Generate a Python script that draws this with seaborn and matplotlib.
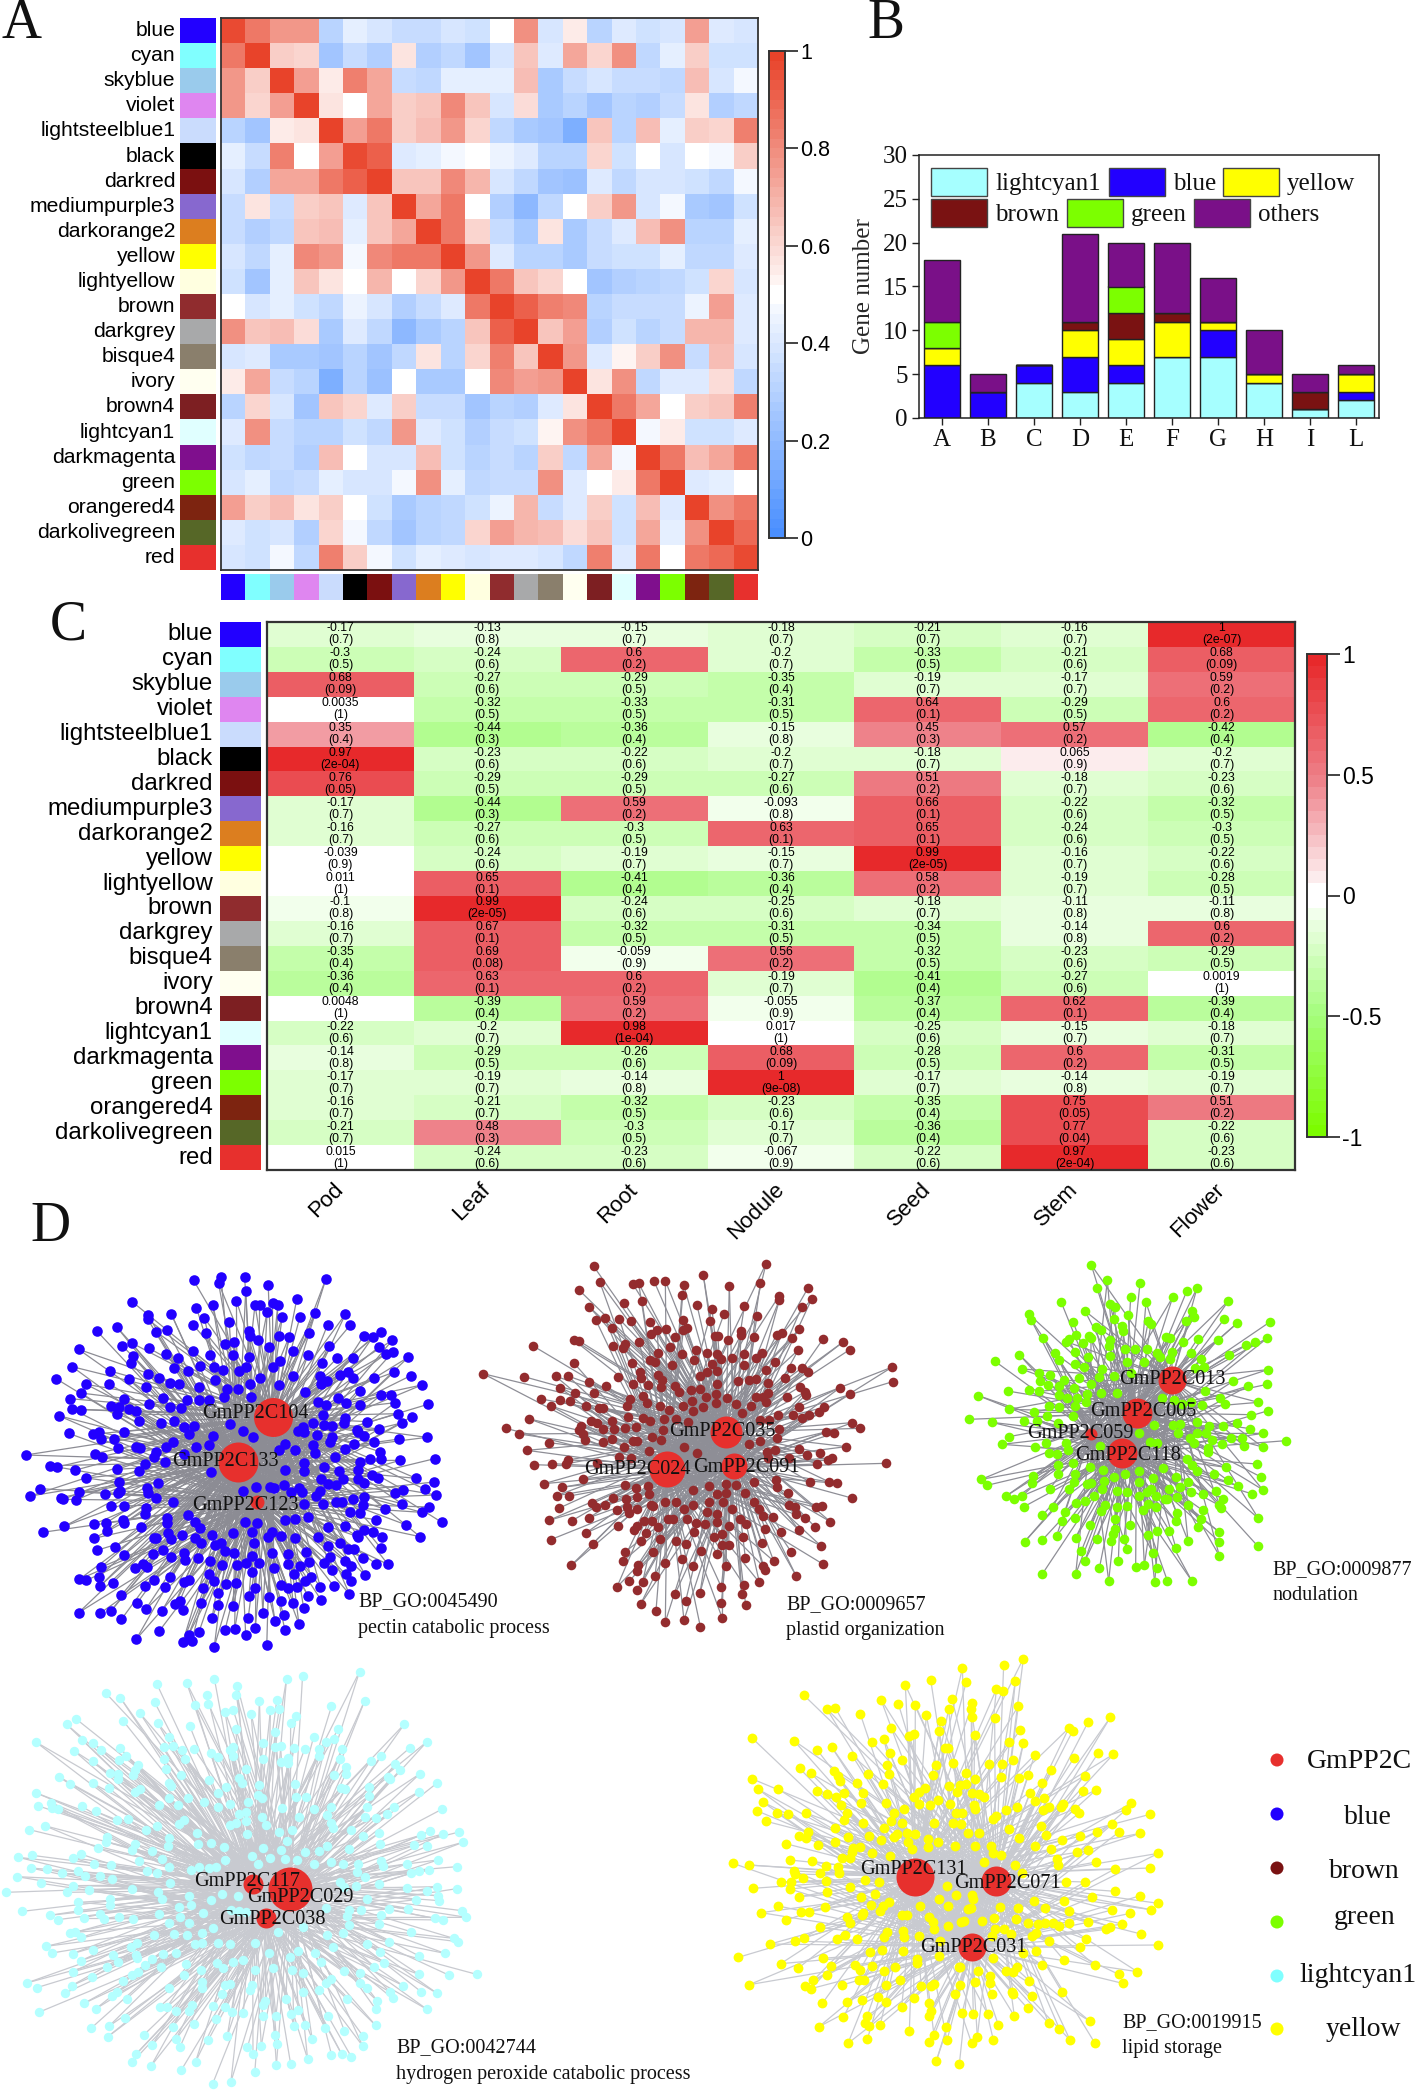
import numpy as np
import matplotlib
matplotlib.use('Agg')
import matplotlib.pyplot as plt
import seaborn as sns
from matplotlib.collections import LineCollection
from matplotlib.colors import LinearSegmentedColormap, ListedColormap
from matplotlib.patches import Rectangle

# ── Données ────────────────────────────────────────────────────────────────
modules = ['blue','cyan','skyblue','violet','lightsteelblue1','black','darkred','mediumpurple3',
           'darkorange2','yellow','lightyellow','brown','darkgrey','bisque4','ivory','brown4',
           'lightcyan1','darkmagenta','green','orangered4','darkolivegreen','red']
module_colors = ['#2200ff','#80ffff','#9acbec','#df86f0','#cadcfd','#000000','#7b1010','#8768cf',
                 '#dc7e1f','#ffff00','#ffffe0','#902c2e','#a8a9aa','#8a7f6c','#fffff0','#7d1f22',
                 '#e0ffff','#7f0f8d','#7cff00','#7d2410','#566727','#e7302d']

# panel A
module_corr = [
 [.97,.85,.77,.77,.3,.43,.38,.35,.35,.38,.37,.49,.78,.38,.55,.3,.41,.36,.39,.74,.41,.39],
 [.85,1,.62,.6,.25,.35,.28,.56,.28,.32,.25,.39,.65,.4,.72,.6,.78,.33,.42,.63,.37,.37],
 [.77,.62,1,.74,.54,.82,.72,.35,.32,.43,.43,.42,.67,.26,.35,.38,.35,.35,.33,.66,.38,.46],
 [.77,.6,.74,1,.58,.5,.72,.63,.65,.8,.65,.38,.59,.26,.3,.25,.3,.28,.35,.56,.28,.33],
 [.3,.25,.54,.58,1,.74,.84,.62,.67,.77,.6,.32,.26,.25,.15,.64,.31,.67,.43,.62,.6,.82],
 [.43,.35,.82,.5,.74,.97,.9,.4,.42,.47,.5,.44,.4,.3,.3,.6,.37,.5,.38,.5,.47,.63],
 [.38,.28,.72,.72,.84,.9,1,.65,.65,.8,.69,.39,.33,.24,.22,.4,.32,.38,.38,.36,.32,.47],
 [.35,.56,.35,.63,.65,.4,.65,1,.72,.84,.5,.28,.18,.33,.48,.62,.77,.38,.47,.27,.24,.37],
 [.35,.28,.32,.65,.67,.42,.65,.72,1,.84,.6,.35,.26,.58,.27,.35,.4,.67,.79,.3,.3,.42],
 [.38,.32,.43,.8,.77,.47,.8,.84,.84,1,.76,.4,.3,.3,.27,.35,.37,.37,.43,.32,.32,.41],
 [.37,.25,.43,.65,.58,.5,.69,.5,.6,.76,1,.84,.65,.6,.5,.25,.28,.3,.33,.36,.6,.38],
 [.49,.39,.42,.37,.33,.44,.39,.28,.35,.4,.84,1,.9,.83,.8,.3,.34,.35,.35,.45,.75,.41],
 [.78,.65,.67,.59,.26,.4,.33,.18,.26,.3,.65,.9,1,.65,.75,.28,.37,.31,.34,.68,.68,.4],
 [.38,.4,.26,.26,.25,.3,.24,.33,.58,.3,.6,.83,.65,1,.77,.4,.52,.63,.78,.35,.66,.39],
 [.55,.72,.35,.3,.15,.3,.22,.48,.27,.27,.5,.8,.75,.77,1,.57,.79,.33,.41,.4,.59,.33],
 [.3,.6,.38,.25,.64,.6,.4,.62,.35,.35,.25,.3,.28,.4,.57,1,.84,.73,.5,.63,.65,.82],
 [.41,.78,.35,.3,.31,.37,.32,.77,.4,.37,.28,.34,.37,.52,.79,.84,1,.46,.55,.36,.36,.4],
 [.36,.33,.35,.28,.67,.5,.38,.38,.67,.37,.3,.35,.31,.63,.33,.73,.46,1,.85,.67,.72,.85],
 [.39,.42,.33,.35,.43,.38,.38,.47,.79,.43,.33,.35,.34,.78,.41,.5,.55,.85,1,.41,.42,.5],
 [.74,.63,.66,.56,.62,.5,.36,.27,.3,.32,.36,.45,.68,.35,.4,.63,.36,.67,.41,1,.78,.85],
 [.41,.37,.38,.28,.6,.47,.32,.24,.3,.32,.6,.75,.68,.66,.59,.65,.36,.72,.42,.78,1,.88],
 [.39,.37,.46,.33,.82,.63,.47,.37,.42,.41,.38,.41,.4,.39,.33,.82,.4,.85,.5,.85,.88,.97],
]

# panel B
gene_groups = ['A','B','C','D','E','F','G','H','I','L']
lightcyan1_genes = [0,0,4,3,4,7,7,4,1,2]
blue_genes = [6,3,2,4,2,0,3,0,0,1]
yellow_genes = [2,0,0,3,3,4,1,1,0,2]
brown_genes = [0,0,0,1,3,1,0,0,2,0]
green_genes = [3,0,0,0,3,0,0,0,0,0]
others_genes = [7,2,0,10,5,8,5,5,2,1]

# panel C
tissues = ['Pod','Leaf','Root','Nodule','Seed','Stem','Flower']
trait_r = [
 ['-0.17','-0.13','-0.15','-0.18','-0.21','-0.16','1'],
 ['-0.3','-0.24','0.6','-0.2','-0.33','-0.21','0.68'],
 ['0.68','-0.27','-0.29','-0.35','-0.19','-0.17','0.59'],
 ['0.0035','-0.32','-0.33','-0.31','0.64','-0.29','0.6'],
 ['0.35','-0.44','-0.36','-0.15','0.45','0.57','-0.42'],
 ['0.97','-0.23','-0.22','-0.2','-0.18','0.065','-0.2'],
 ['0.76','-0.29','-0.29','-0.27','0.51','-0.18','-0.23'],
 ['-0.17','-0.44','0.59','-0.093','0.66','-0.22','-0.32'],
 ['-0.16','-0.27','-0.3','0.63','0.65','-0.24','-0.3'],
 ['-0.039','-0.24','-0.19','-0.15','0.99','-0.16','-0.22'],
 ['0.011','0.65','-0.41','-0.36','0.58','-0.19','-0.28'],
 ['-0.1','0.99','-0.24','-0.25','-0.18','-0.11','-0.11'],
 ['-0.16','0.67','-0.32','-0.31','-0.34','-0.14','0.6'],
 ['-0.35','0.69','-0.059','0.56','-0.32','-0.23','-0.29'],
 ['-0.36','0.63','0.6','-0.19','-0.41','-0.27','0.0019'],
 ['0.0048','-0.39','0.59','-0.055','-0.37','0.62','-0.39'],
 ['-0.22','-0.2','0.98','0.017','-0.25','-0.15','-0.18'],
 ['-0.14','-0.29','-0.26','0.68','-0.28','0.6','-0.31'],
 ['-0.17','-0.19','-0.14','1','-0.17','-0.14','-0.19'],
 ['-0.16','-0.21','-0.32','-0.23','-0.35','0.75','0.51'],
 ['-0.21','0.48','-0.3','-0.17','-0.36','0.77','-0.22'],
 ['0.015','-0.24','-0.23','-0.067','-0.22','0.97','-0.23'],
]
trait_p = [
 ['0.7','0.8','0.7','0.7','0.7','0.7','2e-07'],
 ['0.5','0.6','0.2','0.7','0.5','0.6','0.09'],
 ['0.09','0.6','0.5','0.4','0.7','0.7','0.2'],
 ['1','0.5','0.5','0.5','0.1','0.5','0.2'],
 ['0.4','0.3','0.4','0.8','0.3','0.2','0.4'],
 ['2e-04','0.6','0.6','0.7','0.7','0.9','0.7'],
 ['0.05','0.5','0.5','0.6','0.2','0.7','0.6'],
 ['0.7','0.3','0.2','0.8','0.1','0.6','0.5'],
 ['0.7','0.6','0.5','0.1','0.1','0.6','0.5'],
 ['0.9','0.6','0.7','0.7','2e-05','0.7','0.6'],
 ['1','0.1','0.4','0.4','0.2','0.7','0.5'],
 ['0.8','2e-05','0.6','0.6','0.7','0.8','0.8'],
 ['0.7','0.1','0.5','0.5','0.5','0.8','0.2'],
 ['0.4','0.08','0.9','0.2','0.5','0.6','0.5'],
 ['0.4','0.1','0.2','0.7','0.4','0.6','1'],
 ['1','0.4','0.2','0.9','0.4','0.1','0.4'],
 ['0.6','0.7','1e-04','1','0.6','0.7','0.7'],
 ['0.8','0.5','0.6','0.09','0.5','0.2','0.5'],
 ['0.7','0.7','0.8','9e-08','0.7','0.8','0.7'],
 ['0.7','0.7','0.5','0.6','0.4','0.05','0.2'],
 ['0.7','0.3','0.5','0.7','0.4','0.04','0.6'],
 ['1','0.6','0.6','0.9','0.6','2e-04','0.6'],
]

blue_nodes = [(72,585),(140,617),(160,621),(209,631),(242,654),(113,686),(85,708),(170,713),(177,718),(213,720),(222,696),(119,817),(180,799),(264,792),(298,788),(299,812),(263,835),(271,871),(323,860),(347,885),(284,921),(278,950),(222,958),(242,961),(280,978),(316,968),(340,1005),(384,1029),(220,1058),(280,1060),(311,1052),(340,1078),(408,1048),(454,1052),(382,1137),(446,1113),(512,1146),(537,1143),(528,1124),(557,1116),(600,1160),(630,1110),(657,1107),(688,1125),(715,1103),(747,1154),(770,1083),(798,1111),(837,1092),(794,1064),(736,1058),(695,1074),(594,1073),(513,1050),(489,1032),(503,1024),(563,1030),(610,1036),(653,1037),(697,1008),(754,1012),(787,1023),(821,1030),(850,1043),(862,1007),(899,1020),(978,1002),(935,979),(897,981),(832,982),(806,985),(984,962),(1023,945),(1053,912),(1086,913),(1067,865),(1015,894),(966,903),(983,918),(968,943),(930,931),(925,890),(906,909),(864,907),(839,919),(806,913),(766,924),(705,937),(660,968),(633,973),(600,962),(584,942),(530,960),(475,950),(430,960),(406,978),(463,982),(516,966),(568,983),(611,998),(715,985),(787,976),(822,943),(855,962),(870,952),(952,848),(918,859),(990,868),(975,866),(1045,815),(1069,830),(1018,810),(1002,830),(1052,779),(1077,747),(1138,795),(1176,830),(1237,787),(1181,757),(1201,741),(1125,731),(1106,698),(1129,689),(1190,688),(1222,705),(1215,666),(1165,655),(1059,653),(1041,645),(1019,668),(1120,601),(1217,596),(1195,532),(1118,537),(1047,546),(1063,575),(1067,597),(1037,598),(1008,606),(1002,631),(1061,507),(1028,485),(1125,489),(1153,470),(1113,461),(1198,433),(1107,428),(1094,404),(1067,404),(1008,394),(1181,375),(1150,347),(1102,337),(1046,355),(1143,292),(1100,276),(1080,282),(1062,260),(1098,241),(1068,215),(1044,231),(1018,228),(988,295),(944,294),(920,258),(981,195),(967,163),(917,195),(883,160),(866,219),(862,285),(902,308),(975,335),(988,353),(952,344),(895,347),(821,347),(840,170),(790,172),(831,117),(809,232),(780,227),(778,135),(763,128),(748,156),(727,135),(714,135),(698,212),(700,228),(723,241),(752,260),(820,273),(784,302),(765,322),(912,58),(751,75),(688,92),(685,50),(662,122),(619,51),(612,69),(542,61),(596,136),(550,143),(572,173),(642,187),(577,220),(541,195),(480,163),(468,210),(437,215),(414,165),(414,178),(370,125),(327,201),(272,214),(220,268),(342,257),(369,249),(416,264),(371,287),(367,310),(466,281),(499,294),(541,274),(631,252),(655,246),(589,285),(653,286),(696,292),(202,320),(308,333),(361,358),(157,356),(241,373),(306,372),(226,399),(196,416),(347,417),(410,380),(414,342),(487,323),(526,332),(559,317),(598,321),(624,330),(668,332),(689,320),(201,447),(228,449),(164,467),(192,520),(259,523),(278,516),(283,537),(318,537),(310,438),(334,440),(327,461),(362,446),(381,452),(418,432),(390,484),(450,489),(487,482),(476,440),(508,445),(457,415),(524,420),(557,420),(584,420),(626,412),(702,410),(667,388),(635,388),(603,359),(556,380),(501,373),(475,369),(444,355),(727,353),(701,372),(780,376),(855,397),(900,372),(916,362),(946,413),(970,429),(1008,436),(914,434),(889,425),(265,581),(286,590),(330,565),(380,560),(392,564),(437,577),(430,592),(406,612),(390,634),(328,628),(332,665),(293,702),(330,698),(336,692),(412,684),(413,700),(443,669),(437,714),(311,739),(347,738),(410,745),(407,761),(484,727),(345,780),(348,790),(396,802),(467,775),(468,790),(526,765),(545,787),(560,803),(470,820),(430,835),(437,833),(480,838),(510,825),(455,869),(428,883),(478,891),(515,880),(518,900),(553,895),(589,902),(563,850),(545,835),(593,825),(620,850),(603,855),(651,820),(705,815),(710,850),(687,785),(719,790),(762,815),(750,830),(786,827),(826,835),(890,830),(918,802),(965,797),(1000,825),(857,875),(805,883),(761,878),(706,887),(656,879),(631,873),(621,915),(663,915),(689,910),(725,910),(377,925),(400,912),(412,922),(516,583),(347,515),(463,605),(466,560),(484,547),(530,523),(542,497),(514,502),(596,528),(585,555),(549,560),(590,636),(644,492),(679,514),(709,531),(798,552),(780,570),(827,570),(852,610),(850,633),(798,630),(875,555),(882,580),(938,590),(967,568),(991,553),(948,632),(908,620),(898,658),(918,672),(942,675),(960,658),(1001,658),(885,707),(904,731),(895,692),(942,725),(957,725),(988,716),(1018,710),(1016,735),(979,755),(1008,760),(862,770),(826,778),(799,781),(845,697),(815,697),(795,676),(767,684),(755,682),(718,682),(680,692),(852,733),(836,684),(930,498),(963,490),(966,475),(908,494),(877,488),(905,466),(847,500),(833,512),(850,516),(888,525),(930,530),(923,546),(1003,515),(1020,527),(1000,510)]
brown_nodes = [(39,401),(107,565),(148,582),(162,410),(178,537),(188,317),(171,631),(192,674),(222,731),(213,477),(243,498),(238,608),(257,409),(245,671),(260,767),(266,805),(237,841),(242,899),(304,976),(368,911),(348,879),(306,842),(275,742),(298,768),(294,408),(311,368),(311,300),(326,302),(270,443),(270,480),(301,484),(316,460),(358,427),(371,460),(349,499),(409,439),(444,410),(429,317),(458,323),(464,312),(508,306),(463,190),(404,234),(377,239),(357,200),(327,150),(389,125),(371,79),(448,237),(426,265),(483,244),(489,133),(506,130),(552,123),(586,122),(516,183),(541,247),(543,283),(561,271),(589,266),(641,135),(636,164),(700,106),(681,195),(638,240),(720,242),(726,208),(762,222),(778,138),(823,198),(861,228),(871,130),(888,71),(927,168),(928,180),(1014,144),(1025,177),(995,201),(988,267),(967,294),(935,280),(920,284),(853,292),(814,272),(813,285),(773,301),(735,287),(743,288),(985,330),(1060,296),(1118,307),(1139,329),(1267,381),(1268,425),(1110,443),(1141,462),(1013,395),(995,384),(963,384),(990,440),(1006,455),(1007,465),(951,470),(987,500),(1062,502),(1048,516),(1018,526),(996,533),(970,526),(925,525),(1147,548),(1169,565),(1067,576),(1092,580),(1128,620),(988,628),(1011,644),(1049,638),(1075,660),(1085,653),(1041,672),(1247,670),(1021,727),(1078,726),(1102,730),(1145,774),(1037,802),(1055,799),(1081,845),(1034,860),(1004,833),(978,823),(957,796),(975,802),(987,871),(933,875),(1052,917),(963,935),(911,963),(1060,973),(978,1007),(884,990),(878,977),(826,953),(868,1027),(822,1035),(815,1062),(827,1096),(754,1041),(754,1089),(757,1135),(691,1160),(690,1059),(647,1083),(642,1140),(615,1062),(586,1146),(558,1112),(512,1092),(500,1051),(441,1041),(477,1024),(518,1026),(555,1008),(500,992),(503,975),(458,964),(465,936),(584,968),(635,956),(669,978),(769,979),(741,941),(694,932),(550,935),(513,902),(571,898),(618,904),(648,913),(755,915),(777,914),(818,890),(875,908),(886,866),(908,830),(878,827),(868,806),(853,785),(786,806),(759,787),(718,786),(670,795),(642,808),(586,785),(618,786),(550,799),(500,808),(469,776),(500,772),(441,810),(472,802),(478,818),(429,775),(406,796),(378,800),(367,790),(357,833),(443,857),(493,870),(500,857),(529,879),(522,842),(546,843),(563,860),(595,838),(610,837),(652,838),(679,848),(705,853),(740,845),(741,822),(712,815),(778,859),(811,838),(829,853),(731,890),(756,881),(671,875),(338,717),(380,670),(294,660),(288,672),(334,557),(328,571),(340,582),(345,600),(362,543),(382,548),(398,568),(425,597),(400,607),(433,567),(464,565),(497,560),(490,602),(500,602),(545,590),(574,599),(536,632),(461,622),(448,650),(484,655),(643,620),(682,640),(466,736),(497,744),(535,738),(538,762),(543,795),(717,737),(768,733),(797,736),(741,763),(767,758),(670,750),(825,758),(852,727),(917,720),(920,742),(955,760),(893,655),(890,637),(914,629),(958,654),(920,594),(926,568),(870,540),(897,540),(869,604),(838,613),(815,518),(798,493),(772,474),(737,490),(700,500),(670,512),(665,484),(638,497),(689,447),(663,449),(628,456),(615,438),(574,440),(569,497),(596,510),(619,537),(655,547),(580,570),(519,533),(540,543),(582,537),(532,490),(518,469),(488,433),(480,476),(471,497),(474,532),(425,544),(400,505),(387,505),(742,432),(737,462),(707,470),(803,424),(838,420),(857,418),(893,430),(895,458),(878,470),(859,470),(843,497),(888,487),(945,415),(915,365),(887,390),(858,353),(877,340),(823,342),(822,374),(786,353),(753,357),(740,343),(711,340),(726,372),(712,395),(691,407),(740,393),(673,360),(678,329),(637,341),(605,375),(601,322),(563,340),(540,360),(554,365),(487,370),(511,395),(514,415),(534,435),(564,405),(577,420),(616,290),(640,270),(650,265)]
green_nodes = [(394,45),(411,114),(442,91),(540,99),(711,114),(680,124),(638,142),(512,140),(558,157),(450,163),(464,172),(303,155),(375,183),(207,193),(213,209),(339,215),(461,207),(504,194),(805,153),(792,208),(831,220),(931,215),(921,265),(885,277),(859,285),(808,316),(773,269),(713,266),(696,183),(703,201),(677,214),(565,214),(573,221),(486,229),(490,243),(408,232),(424,239),(348,255),(250,263),(326,267),(319,275),(387,258),(393,263),(370,280),(450,270),(448,287),(494,297),(525,296),(562,296),(617,261),(630,265),(669,277),(694,308),(285,310),(297,329),(345,305),(345,342),(372,352),(383,320),(449,318),(502,335),(552,335),(590,310),(600,322),(637,305),(630,326),(178,314),(105,334),(185,357),(236,370),(270,374),(241,393),(312,389),(358,385),(417,380),(425,357),(423,428),(392,402),(471,429),(462,378),(512,368),(705,355),(731,350),(722,326),(923,359),(921,403),(865,408),(820,393),(736,424),(143,423),(55,437),(208,421),(236,424),(265,406),(296,407),(341,413),(380,432),(350,443),(322,445),(298,434),(296,470),(268,467),(345,467),(378,456),(147,478),(27,508),(95,517),(192,514),(222,487),(260,498),(232,512),(293,518),(340,497),(147,560),(127,583),(224,592),(258,580),(290,612),(267,610),(325,600),(318,578),(419,587),(64,688),(81,706),(137,739),(162,747),(186,738),(192,770),(219,678),(216,698),(269,717),(295,645),(294,673),(340,640),(345,672),(343,697),(326,717),(247,796),(278,772),(347,760),(375,752),(401,739),(391,652),(428,661),(462,681),(431,692),(426,716),(381,701),(394,700),(470,724),(500,725),(495,672),(537,697),(538,737),(572,718),(560,725),(588,738),(616,747),(627,718),(578,683),(537,664),(610,655),(648,680),(660,712),(651,740),(622,748),(693,727),(684,697),(728,733),(767,724),(789,746),(776,765),(782,773),(803,691),(834,707),(877,732),(908,719),(903,681),(798,652),(763,673),(712,664),(695,645),(680,626),(890,642),(851,588),(845,563),(910,550),(978,572),(908,591),(871,536),(830,520),(925,482),(895,457),(873,494),(789,527),(746,527),(738,549),(710,516),(727,464),(794,461),(779,443),(785,583),(812,563),(755,570),(745,595),(745,605),(702,578),(690,563),(712,548),(638,526),(660,522),(654,549),(582,524),(570,575),(590,580),(538,550),(605,443),(643,450),(666,463),(694,455),(895,805),(893,888),(778,846),(778,875),(778,917),(713,832),(723,807),(728,781),(684,765),(650,790),(647,813),(628,842),(684,872),(648,895),(695,992),(622,992),(584,997),(590,955),(579,909),(592,842),(563,855),(511,825),(466,837),(458,853),(454,873),(492,868),(500,897),(475,934),(553,945),(527,951),(446,993),(418,955),(374,934),(364,903),(347,972),(247,972),(347,863),(411,868),(290,857),(247,870),(194,875),(306,812),(316,785),(345,804),(389,826),(424,783),(434,765),(470,771),(465,808),(502,767),(550,780),(563,763),(587,770)]
cyan_nodes = [(783,35),(659,47),(624,57),(467,57),(407,70),(342,73),(517,78),(231,100),(262,113),(451,104),(515,105),(337,127),(425,135),(454,131),(565,122),(603,119),(794,123),(722,139),(490,155),(508,150),(589,150),(608,148),(547,161),(645,169),(305,160),(165,176),(145,193),(268,182),(344,190),(413,197),(513,206),(633,189),(881,192),(736,208),(599,217),(683,231),(711,245),(727,236),(930,245),(893,263),(78,246),(179,240),(203,250),(367,230),(261,264),(220,270),(162,273),(357,262),(377,259),(423,267),(397,270),(572,250),(507,261),(500,270),(600,262),(611,258),(640,265),(664,266),(745,266),(695,267),(694,288),(829,289),(807,302),(741,296),(861,313),(872,329),(753,320),(753,342),(914,342),(846,350),(850,358),(952,369),(913,395),(803,381),(803,408),(742,385),(752,388),(727,345),(275,288),(259,300),(203,304),(358,296),(402,296),(361,326),(460,280),(475,292),(507,287),(572,298),(628,295),(627,310),(613,305),(536,328),(300,316),(295,330),(290,345),(240,338),(256,342),(258,358),(129,351),(153,372),(202,370),(238,385),(295,395),(306,388),(368,368),(372,378),(395,346),(456,360),(492,380),(521,355),(527,370),(565,375),(642,372),(474,398),(79,399),(82,437),(110,428),(113,445),(126,447),(178,439),(208,454),(255,479),(278,478),(343,498),(318,509),(367,414),(347,435),(387,435),(410,415),(445,425),(475,440),(502,432),(540,425),(570,415),(563,405),(614,443),(645,412),(667,412),(683,447),(720,440),(800,442),(858,440),(843,463),(820,474),(795,472),(962,448),(713,465),(652,470),(570,470),(535,457),(520,462),(400,480),(390,492),(64,509),(97,497),(234,530),(230,545),(213,565),(295,552),(287,570),(332,573),(369,533),(365,558),(430,518),(432,552),(460,548),(487,560),(500,495),(515,490),(535,483),(538,523),(580,495),(608,515),(637,510),(720,490),(725,505),(765,510),(790,527),(825,520),(828,553),(916,526),(936,514),(965,522),(1000,516),(1008,547),(931,558),(902,556),(760,568),(713,558),(695,572),(665,577),(625,543),(572,565),(612,570),(40,592),(70,586),(158,593),(176,582),(205,612),(242,615),(303,604),(352,598),(67,624),(103,628),(134,640),(169,634),(185,648),(218,648),(37,650),(90,670),(158,677),(146,697),(194,691),(12,697),(243,656),(321,632),(342,640),(369,622),(371,668),(415,630),(434,620),(455,625),(470,622),(490,600),(548,587),(561,612),(589,593),(620,598),(646,600),(683,612),(722,605),(747,612),(780,612),(830,603),(835,618),(886,611),(953,600),(995,620),(913,632),(895,640),(935,631),(825,673),(886,684),(930,693),(952,680),(995,686),(955,707),(957,722),(905,719),(800,717),(740,665),(750,680),(776,677),(777,635),(795,652),(49,754),(170,727),(170,749),(239,718),(240,735),(287,688),(345,695),(352,718),(390,742),(412,708),(416,735),(460,719),(483,702),(519,707),(504,749),(108,766),(126,779),(182,773),(218,761),(227,776),(259,771),(289,776),(346,762),(368,790),(392,770),(412,790),(443,760),(520,752),(535,755),(710,745),(761,750),(787,750),(848,747),(888,748),(1006,752),(1016,772),(947,775),(964,780),(830,764),(755,768),(152,819),(163,817),(177,832),(100,859),(113,879),(158,881),(202,869),(285,860),(298,850),(336,824),(378,823),(408,825),(440,818),(465,803),(605,817),(660,800),(712,826),(747,820),(760,794),(825,791),(895,815),(988,835),(997,845),(847,845),(800,852),(725,862),(685,880),(650,873),(632,890),(585,880),(555,850),(500,852),(475,850),(440,850),(425,853),(383,878),(355,882),(297,886),(298,895),(247,885),(257,905),(176,902),(233,920),(160,935),(201,952),(58,969),(80,983),(156,977),(142,999),(267,964),(287,946),(301,937),(315,915),(330,898),(350,920),(405,912),(400,945),(438,930),(472,908),(485,925),(508,905),(530,900),(555,930),(595,923),(635,930),(660,940),(700,905),(750,932),(785,940),(815,920),(837,910),(828,875),(913,888),(969,880),(977,945),(912,943),(1038,943),(952,1000),(917,995),(878,977),(855,1015),(850,997),(800,985),(785,968),(722,957),(710,970),(695,990),(660,996),(548,975),(545,990),(500,973),(490,975),(440,965),(441,985),(484,1003),(369,985),(254,997),(245,1008),(276,1016),(183,1030),(86,1056),(209,1046),(348,1040),(363,1042),(383,1052),(419,1035),(412,1052),(465,1038),(490,1042),(505,1057),(530,1060),(578,1022),(572,1035),(623,1016),(650,1050),(634,1062),(572,1068),(601,1067),(756,1018),(822,1023),(818,1047),(930,1048),(714,1068),(471,1078),(422,1092),(376,1100),(273,1073),(238,1098),(199,1104),(235,1130),(313,1125),(384,1136),(454,1139),(495,1128),(600,1125),(640,1098),(664,1094),(708,1104),(750,1112),(818,1096),(790,1127),(680,1138),(603,1152),(569,1157),(539,1162),(332,1154),(392,1161),(296,1183),(288,1207),(329,1218),(395,1230),(426,1205),(551,1182),(602,1214),(633,1212),(670,1197),(722,1184),(744,1182),(765,1190),(790,1158),(555,1236),(503,1265),(463,1272)]
yellow_nodes = [(910,26),(851,44),(727,55),(739,95),(886,94),(632,89),(556,105),(251,135),(829,118),(849,122),(483,149),(535,161),(586,166),(696,146),(686,178),(757,160),(754,178),(756,202),(895,168),(824,204),(619,196),(421,192),(320,176),(346,174),(663,212),(513,233),(658,242),(901,239),(1171,202),(1104,217),(1046,235),(1058,243),(568,257),(581,252),(764,255),(95,263),(222,272),(456,276),(492,268),(868,275),(910,280),(1134,310),(1180,313),(1061,325),(335,291),(291,299),(397,317),(509,310),(676,293),(683,295),(944,315),(878,329),(547,330),(845,343),(806,342),(700,340),(649,346),(502,345),(992,360),(239,355),(273,370),(343,364),(353,378),(360,394),(443,371),(508,372),(639,375),(737,368),(764,387),(843,382),(897,385),(925,376),(1094,377),(95,386),(115,418),(173,416),(291,424),(412,398),(322,431),(372,430),(349,442),(429,429),(488,401),(686,409),(719,406),(739,403),(710,425),(755,428),(778,432),(792,440),(615,415),(596,426),(581,440),(965,400),(930,429),(1088,423),(1128,420),(973,443),(946,454),(988,470),(1030,462),(1022,470),(1065,476),(1076,490),(128,456),(110,482),(170,488),(204,491),(257,489),(139,514),(364,466),(422,458),(498,459),(382,490),(373,510),(553,476),(598,463),(631,466),(654,449),(691,462),(763,465),(764,478),(890,470),(858,481),(968,479),(829,497),(818,508),(1234,459),(1217,480),(1290,493),(1177,522),(1198,545),(1261,550),(1130,547),(1079,559),(1027,570),(963,528),(977,555),(897,565),(867,538),(778,550),(743,550),(709,490),(727,489),(700,520),(724,521),(641,520),(546,520),(521,490),(513,512),(491,535),(530,552),(521,562),(560,550),(586,553),(428,519),(344,533),(238,557),(263,547),(259,565),(293,584),(344,577),(385,562),(446,557),(483,571),(197,581),(400,595),(420,590),(397,605),(455,608),(510,619),(565,575),(577,598),(625,567),(624,592),(654,577),(705,587),(764,587),(813,587),(818,609),(844,615),(945,587),(992,598),(1072,607),(1105,600),(1010,627),(1014,645),(1128,636),(1186,656),(1290,654),(1315,610),(39,640),(86,645),(209,630),(277,634),(365,623),(390,625),(318,649),(355,650),(356,668),(222,663),(224,672),(301,670),(248,685),(184,696),(214,696),(210,717),(99,715),(318,693),(321,727),(238,740),(390,710),(435,690),(478,697),(465,733),(422,742),(680,708),(707,736),(756,735),(759,748),(792,636),(885,644),(905,670),(1037,697),(1095,696),(1186,724),(1117,742),(1261,737),(1031,752),(942,754),(976,775),(1048,782),(1175,780),(1231,790),(1293,779),(1315,760),(1207,822),(1263,852),(1170,832),(1158,838),(1104,817),(1048,820),(1018,827),(1000,820),(975,818),(954,823),(923,820),(889,808),(894,774),(841,772),(123,788),(175,768),(242,786),(267,785),(314,772),(199,810),(299,832),(381,800),(391,820),(426,795),(428,788),(452,765),(490,767),(508,755),(479,784),(600,768),(658,748),(684,769),(745,778),(754,774),(546,796),(561,795),(628,800),(640,815),(641,837),(685,827),(723,817),(733,812),(787,812),(823,805),(151,882),(224,873),(251,863),(55,922),(182,941),(235,954),(88,1004),(350,868),(374,854),(410,868),(500,845),(493,862),(548,842),(552,860),(597,858),(659,873),(825,836),(853,838),(817,858),(872,853),(947,850),(936,857),(988,873),(1099,868),(1080,892),(1315,885),(1125,946),(1031,929),(967,946),(949,902),(908,908),(820,923),(450,906),(485,899),(548,904),(592,926),(592,940),(308,925),(333,949),(321,976),(405,945),(419,960),(456,949),(491,962),(524,952),(657,917),(716,951),(721,952),(773,964),(857,963),(880,965),(892,950),(810,977),(1196,973),(1252,965),(1208,1000),(928,992),(1026,1026),(935,1038),(877,1025),(880,1033),(815,1032),(704,1033),(721,1004),(765,997),(810,998),(642,1003),(632,1008),(603,1007),(540,991),(498,1005),(432,991),(418,991),(367,1005),(280,991),(255,1008),(273,1016),(307,1060),(380,1055),(425,1051),(473,1042),(498,1056),(581,1045),(626,1060),(632,1082),(628,1097),(545,1071),(726,1089),(760,1093),(803,1092),(883,1098),(923,1075),(986,1120),(1018,1136),(1110,1114),(370,1102),(297,1130),(442,1097),(435,1118),(448,1127),(481,1124),(568,1143),(678,1132),(835,1125),(642,1156),(627,1177),(681,1171),(755,1180),(772,1160),(820,1170),(1050,1170),(1125,1180),(384,1180),(442,1168),(649,1233),(718,1243)]

blue_hubs = [('GmPP2C104',(765,470),19.5,(255,1414)),('GmPP2C133',(665,605),20,(225,1461)),('GmPP2C123',(720,725),7,(245,1505))]
brown_hubs = [('GmPP2C035',(767,577),16,(722,1431)),('GmPP2C024',(592,688),18,(637,1470)),('GmPP2C091',(793,678),13,(746,1468))]
green_hubs = [('GmPP2C013',(635,389),14,(1172,1380)),('GmPP2C005',(530,488),15,(1143,1412)),('GmPP2C059',(392,552),6,(1080,1433)),('GmPP2C118',(487,610),15,(1128,1455))]
cyan_hubs = [('GmPP2C117',(550,672),10,(247,1882)),('GmPP2C029',(632,688),22,(300,1898)),('GmPP2C038',(580,773),10,(272,1920))]
yellow_hubs = [('GmPP2C131',(584,680),19,(913,1869)),('GmPP2C071',(827,692),15,(1007,1884)),('GmPP2C031',(755,890),14,(973,1948))]

go_labels = [('BP_GO:0045490','pectin catabolic process',358,1602,1628),
             ('BP_GO:0009657','plastid organization',786,1605,1631),
             ('BP_GO:0009877','nodulation',1272,1570,1595),
             ('BP_GO:0042744','hydrogen peroxide catabolic process',396,2048,2075),
             ('BP_GO:0019915','lipid storage',1122,2023,2049)]
net_legend = ['GmPP2C','blue','brown','green','lightcyan1','yellow']
net_legend_colors = ['#e7302d','#2200ff','#7a1212','#7cff00','#80ffff','#ffff00']

# ── Figure ─────────────────────────────────────────────────────────────────
sns.set_theme(style='white')
plt.rcParams['font.family'] = ['Liberation Sans', 'DejaVu Sans']
SERIF = ['Liberation Serif', 'DejaVu Serif']
W, H = 1418, 2090
fig = plt.figure(figsize=(W/100, H/100), dpi=100, facecolor='white')

def px_axes(l, t, r, b):
    return fig.add_axes([l/W, 1-b/H, (r-l)/W, (b-t)/H])

pix = fig.add_axes([0, 0, 1, 1], zorder=5)
pix.patch.set_alpha(0)

def frame(ax, lw=1.3, color='#333333'):
    for s in ax.spines.values():
        s.set_visible(True); s.set_linewidth(lw); s.set_color(color)

def banded_cmap(name, stops, n):
    # paliers discrets, les deux paliers centraux restent blancs
    levels = LinearSegmentedColormap.from_list(name, stops)(np.linspace(0, 1, n))
    levels[n//2-1:n//2+1] = (1, 1, 1, 1)
    return ListedColormap(levels)

# Panel A
ax_a = px_axes(221, 18, 758, 570)
cax_a = px_axes(769, 51, 785, 538)
cmap_a = banded_cmap('bwr_a', ['#4a8fff','#ffffff','#e8432a'], 50)
sns.heatmap(np.array(module_corr), cmap=cmap_a, vmin=0, vmax=1, ax=ax_a, cbar_ax=cax_a,
            xticklabels=False, yticklabels=modules, cbar_kws={'ticks':[0,.2,.4,.6,.8,1]})
ax_a.tick_params(axis='y', length=0, pad=33, labelsize=15.2, rotation=0, labelcolor='black')
frame(ax_a)
cax_a.set_yticklabels(['0','0.2','0.4','0.6','0.8','1'])
cax_a.tick_params(length=9, width=1.2, labelsize=15.5, pad=2, right=True, color='#222222', labelcolor='black')
frame(cax_a, 1.2)
for i, c in enumerate(module_colors):
    h = (570-18)/22
    pix.add_patch(Rectangle((180, 18+i*h), 36, h, fc=c, ec='none'))
    w = (758-221)/22
    pix.add_patch(Rectangle((221+i*w, 574), w, 26, fc=c, ec='none'))

# Panel B
ax_b = px_axes(919, 155, 1379, 418)
bottom = np.zeros(len(gene_groups))
series_b = [(lightcyan1_genes,'#a6ffff'),(blue_genes,'#2200ff'),(yellow_genes,'#ffff00'),
            (brown_genes,'#7a1212'),(green_genes,'#7cff00'),(others_genes,'#7a1088')]
for vals, col in series_b:
    sns.barplot(x=gene_groups, y=vals, color=col, bottom=bottom, width=.8, saturation=1,
                edgecolor='#222222', linewidth=1, ax=ax_b)
    bottom = bottom + np.array(vals)
ax_b.set_xlim(-.5, 9.5); ax_b.set_ylim(0, 30)
ax_b.set_yticks(range(0, 31, 5))
ax_b.set_ylabel('Gene number', fontsize=18, family=SERIF, labelpad=6)
ax_b.tick_params(length=5, width=1, bottom=True, left=True, pad=3, color='#222222', labelcolor='#111111')
for t in ax_b.get_xticklabels()+ax_b.get_yticklabels():
    t.set_fontfamily(SERIF); t.set_fontsize(18)
frame(ax_b, 1.1, '#222222')
legend_b = [('lightcyan1',931,168,'#a6ffff'),('blue',1109,168,'#2200ff'),('yellow',1223,168,'#ffff00'),
            ('brown',931,199,'#7a1212'),('green',1067,199,'#7cff00'),('others',1194,199,'#7a1088')]
for lab, x, y, c in legend_b:
    pix.add_patch(Rectangle((x, y), 56, 28, fc=c, ec='#444444', lw=1))
    pix.text(x+64, y+16, lab, family=SERIF, fontsize=18, va='center', ha='left', color='#111111')

# Panel C
ax_c = px_axes(267, 622, 1295, 1170)
cax_c = px_axes(1307, 654, 1326.5, 1137)
cmap_c = banded_cmap('gwr_c', [(0,'#7cfc00'),(.25,'#a6fd80'),(.5,'#ffffff'),(.75,'#ee7f88'),(1,'#e7292b')], 40)
r_vals = np.array(trait_r, dtype=float)
annot_c = np.array([[f'{r}\n({p})' for r, p in zip(rr, pp)] for rr, pp in zip(trait_r, trait_p)])
sns.heatmap(r_vals, cmap=cmap_c, vmin=-1, vmax=1, ax=ax_c, cbar_ax=cax_c, annot=annot_c, fmt='',
            annot_kws={'size':8.8, 'color':'black', 'linespacing':1.0},
            xticklabels=tissues, yticklabels=modules, cbar_kws={'ticks':[-1,-.5,0,.5,1]})
ax_c.tick_params(axis='y', length=0, pad=39, labelsize=17.3, rotation=0, labelcolor='black')
ax_c.tick_params(axis='x', length=0, pad=12, labelsize=16, labelcolor='black')
plt.setp(ax_c.get_xticklabels(), rotation=45, ha='right', va='center', rotation_mode='anchor')
frame(ax_c, 1.6, '#333333')
cax_c.set_yticklabels(['-1','-0.5','0','0.5','1'])
cax_c.tick_params(length=9, width=1.2, labelsize=16.5, pad=2, right=True, color='#222222', labelcolor='black')
frame(cax_c, 1.2)
for i, c in enumerate(module_colors):
    h = (1170-622)/22
    pix.add_patch(Rectangle((220, 622+i*h), 41, h, fc=c, ec='none'))

# Panel D
networks = [(blue_nodes, blue_hubs, '#2200ff', '#8c8c94', (0,1260,2.8,3), 58),
            (brown_nodes, brown_hubs, '#932c2e', '#8e8e96', (470,1240,3,3), 48),
            (green_nodes, green_hubs, '#7cff00', '#8e8e96', (960,1250,3,3), 48),
            (cyan_nodes, cyan_hubs, '#b4ffff', '#c8cad0', (0,1660,2.178,3), 46),
            (yellow_nodes, yellow_hubs, '#ffff00', '#c8cad0', (720,1650,3,3), 50)]
for nodes, hubs, col, edge_col, (x0, y0, sx, sy), size in networks:
    xy = np.array(nodes, dtype=float)
    xy = np.c_[x0 + xy[:, 0]/sx, y0 + xy[:, 1]/sy]
    hub_xy = np.array([h[1] for h in hubs], dtype=float)
    hub_xy = np.c_[x0 + hub_xy[:, 0]/sx, y0 + hub_xy[:, 1]/sy]
    segs = []
    n = len(hubs)
    for i, p in enumerate(xy):
        segs.append([p, hub_xy[i % n]])
        if i % 2 == 0:
            segs.append([p, hub_xy[(i+1) % n]])
    pix.add_collection(LineCollection(segs, colors=edge_col, linewidths=.9, zorder=1))
    sns.scatterplot(x=xy[:, 0], y=xy[:, 1], color=col, s=size, linewidth=0, ax=pix, zorder=2)
    for (name, _, r, (tx, ty)), (hx, hy) in zip(hubs, hub_xy):
        sns.scatterplot(x=[hx], y=[hy], color='#e7302d', s=(2*r*.72)**2, linewidth=0, ax=pix, zorder=3)
        pix.text(tx, ty, name, family=SERIF, fontsize=14.6, ha='center', va='center', color='#111111', zorder=4)

for l1, l2, x, y1, y2 in go_labels:
    pix.text(x, y1, l1, family=SERIF, fontsize=14.5, va='center', color='#111111')
    pix.text(x, y2, l2, family=SERIF, fontsize=14.5, va='center', color='#111111')

legend_y = [1760, 1814, 1868, 1922, 1976, 2029]
legend_tx = [(1359,1762),(1368,1817),(1364,1872),(1365,1918),(1358,1975),(1363,2030)]
sns.scatterplot(x=[1277]*6, y=legend_y, hue=net_legend, palette=net_legend_colors, s=88,
                linewidth=0, legend=False, ax=pix, zorder=3)
for lab, (tx, ty) in zip(net_legend, legend_tx):
    pix.text(tx, ty, lab, family=SERIF, fontsize=20, ha='center', va='center', color='#111111')

# lettres des panneaux
for lab, x, y in [('A',21,24),('B',886,24),('C',68,625),('D',51,1227)]:
    pix.text(x, y, lab, family=SERIF, fontsize=40, ha='center', va='center', color='#111111')

pix.set_xlim(0, W); pix.set_ylim(H, 0)
pix.set_axis_off()
fig.savefig('out.png', dpi=100, facecolor='white')
plt.close(fig)
